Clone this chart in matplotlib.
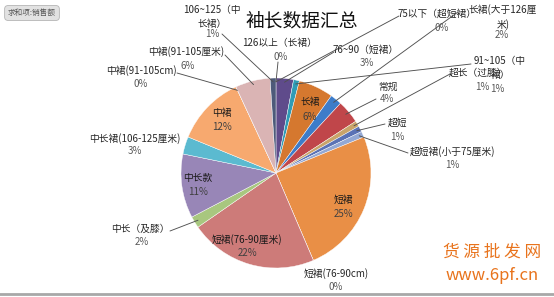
import numpy as np
import matplotlib.pyplot as plt
from matplotlib.lines import Line2D

plt.rcParams['font.family'] = ['Noto Sans CJK SC', 'DejaVu Sans']

# slice data, clockwise from 12 o'clock
names = ["126以上（长裙）", "75以下（超短裙）", "76~90（短裙）", "91~105（中\n裙）", "长裙",
         "长裙(大于126厘\n米)", "常规", "超长（过膝）", "超短", "超短裙(小于75厘米)",
         "短裙", "短裙(76-90cm)", "短裙(76-90厘米)", "中长（及膝）", "中长款",
         "中长裙(106-125厘米)", "中裙", "中裙(91-105cm)", "中裙(91-105厘米)", "106~125（中\n长裙）"]
pcts = [0, 0, 3, 1, 6, 2, 4, 1, 1, 1, 25, 0, 22, 2, 11, 3, 12, 0, 6, 1]
colors = ["#4f81bd", "#c0504d", "#5f4b8b", "#2f9bb5", "#d5782f", "#3d7cc9", "#c0464a",
          "#c9a46a", "#5a72b5", "#93a8d4", "#e98f46", "#8064a2", "#cd7b79", "#a8c77f",
          "#9886b7", "#5bbad0", "#f7a96f", "#95b3d7", "#dab4b4", "#4d5a7a"]

# label layout in pixels from top-left: name centre, percent centre, leader start
name_xy = [(280, 43), (437, 14), (366, 50), (500, 68), (310, 102),
           (503, 17), (388, 87), (478, 73), (397, 123), (452, 152),
           (343, 200), (336, 274), (247, 240), (140, 229), (198, 178),
           (135, 139), (222, 113), (141, 71), (186, 52), (212, 17)]
pct_xy = [(281, 57), (442, 28), (367, 63), (497, 89), (310, 117),
          (502, 35), (387, 99), (482, 87), (397, 137), (452, 165),
          (343, 214), (336, 287), (247, 253), (142, 242), (198, 192),
          (135, 151), (222, 127), (141, 84), (188, 66), (212, 34)]
lead_xy = [(278, 62), (399, 16), (334, 52), (471, 64), None,
           (458, 12), (376, 99), (450, 74), (385, 124), (408, 153),
           None, None, None, (170, 231), None,
           None, None, (177, 73), (225, 55), (222, 34)]
inside = [4, 10, 12, 14, 16]

W, H = 554, 297
fig = plt.figure(figsize=(W / 100, H / 100), dpi=100)
fig.patch.set_facecolor('white')

cx, cy, r = 276, 173, 95
ax = fig.add_axes([(cx - r) / W, (H - cy - r) / H, 2 * r / W, 2 * r / H])
wedges, _ = ax.pie(pcts, colors=colors, startangle=90, counterclock=False,
                   wedgeprops=dict(edgecolor='white', linewidth=0.3))
ax.set_xlim(-1, 1)
ax.set_ylim(-1, 1)
ax.axis('off')

def px(p):
    return (p[0], H - p[1])

for i, w in enumerate(wedges):
    nc = '#1a1a1a' if i in inside else '#262626'
    pc = '#404040' if i in inside else '#595959'
    fig.text(*px(name_xy[i]), names[i], fontsize=7, color=nc, ha='center', va='center',
             linespacing=1.45, transform=None)
    fig.text(*px(pct_xy[i]), f"{pcts[i]}%", fontsize=7, color=pc, ha='center', va='center',
             transform=None)
    if lead_xy[i] is not None:
        mid = np.deg2rad((w.theta1 + w.theta2) / 2)
        ax.annotate('', xy=(0.96 * np.cos(mid), 0.96 * np.sin(mid)), xycoords='data',
                    xytext=px(lead_xy[i]), textcoords='figure pixels',
                    arrowprops=dict(arrowstyle='-', color='#505050', lw=0.65,
                                    shrinkA=0, shrinkB=0))

fig.text(302 / W, 1 - 21 / H, "袖长数据汇总", fontsize=13.5, color='#111111',
         ha='center', va='center', fontweight='medium')

fig.text(32 / W, 1 - 13 / H, "求和项:销售额", fontsize=5.5, color='#555555',
         ha='center', va='center',
         bbox=dict(boxstyle='round,pad=0.45', fc='#e2e2e2', ec='#b5b5b5', lw=0.6))

fig.text(492 / W, 1 - 252 / H, "货 源 批 发 网", fontsize=12, color='#e8731c',
         ha='center', va='center')
fig.text(492 / W, 1 - 275 / H, "www.6pf.cn", fontsize=12, color='#e8731c',
         ha='center', va='center')

fig.add_artist(Line2D([0, 1], [1 - 294 / H, 1 - 294 / H], transform=fig.transFigure,
                      color='#a8a8a8', lw=2))

fig.savefig('out.png', dpi=100)
